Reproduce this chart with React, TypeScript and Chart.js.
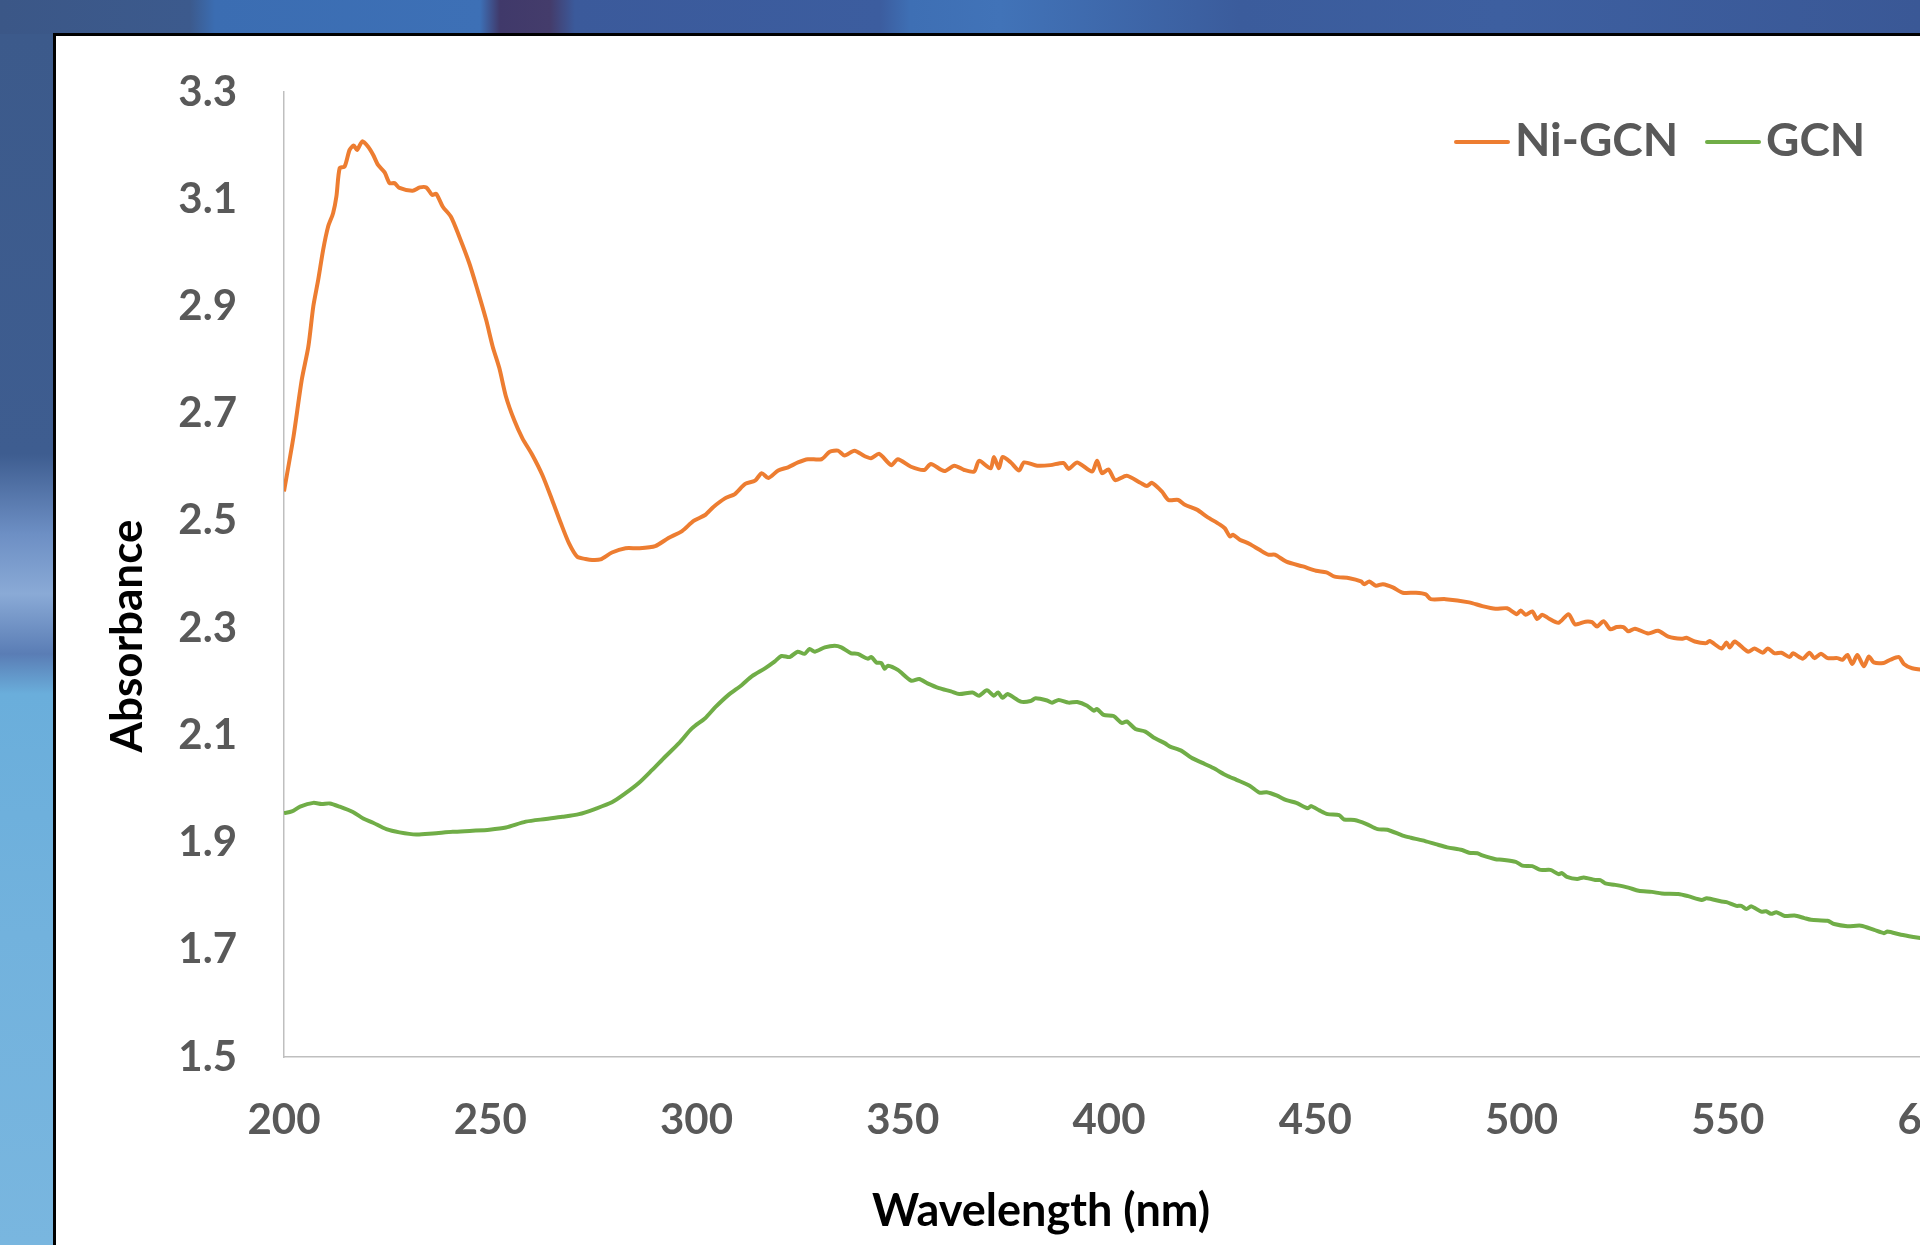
import React, { useEffect, useRef } from "react";
import { Chart, registerables } from "chart.js";

Chart.register(...registerables);

// ---------------- DATA ----------------
const seriesLabels = ["Ni-GCN", "GCN"];
const seriesColors = ["#ED7D31", "#70AD47"];
const xAxisTitle = "Wavelength (nm)";
const yAxisTitle = "Absorbance";
const xTickValues = [200, 250, 300, 350, 400, 450, 500, 550, 600];
const yTickValues = [1.5, 1.7, 1.9, 2.1, 2.3, 2.5, 2.7, 2.9, 3.1, 3.3];

const wavelengthNiGCN = [
  200, 202.3, 204.3, 205.9, 207.1, 208.3, 209.5, 210.7, 211.9, 212.7, 213.5, 214.7, 215.9, 216.9, 217.7, 219,
  220.4, 221.6, 222.8, 224.4, 225.6, 226.8, 228, 231.2, 232.9, 234.5, 235.9, 236.9, 238.5, 240.5, 242.5, 244.9,
  246.9, 249, 250.6, 252.2, 253.8, 255.8, 257.8, 260.2, 262.6, 265, 267.1, 269.1, 271.1, 273.1, 274.7, 276.7,
  279.5, 282.8, 286, 290, 293.2, 296.5, 299.3, 302.1, 304.1, 306.9, 309.3, 311.8, 314.2, 315.8, 317.4, 319.8,
  322.2, 324.6, 327, 330.3, 332.3, 334.3, 335.9, 338.3, 340.7, 342.3, 344.3, 347.2, 348.8, 352, 355.2, 356.8,
  360.1, 362.5, 364.9, 367.3, 368.5, 371.3, 372.1, 373.3, 374.2, 376.2, 378.2, 379.4, 382.6, 385.8, 389, 390.2,
  392.3, 395.9, 397.1, 398.3, 399.9, 401.5, 404.3, 407.6, 409.2, 410.4, 412.8, 414.4, 416.8, 418.4, 421.3, 423.7,
  426.9, 428.1, 429.3, 430.1, 431.7, 434.1, 436.5, 438.6, 440.2, 443, 447, 450.2, 452.7, 454.7, 458.3, 461.1,
  461.9, 463.1, 464.7, 466.4, 468.8, 471.2, 474.4, 476.8, 478, 481.6, 487.3, 490.5, 493.7, 496.5, 498.9, 499.8,
  501, 502.6, 503.8, 505, 506.6, 509, 511.4, 513, 515.5, 517.1, 518.3, 519.9, 521.5, 523.1, 524.7, 525.9,
  527.5, 530.7, 533.1, 535.6, 538.8, 540, 542, 544.8, 545.6, 548.5, 549.7, 550.5, 551.7, 554.9, 556.5, 558.5,
  559.7, 561.4, 563, 565, 565.8, 568.2, 569.8, 571, 572.6, 574.2, 576.6, 577.8, 579, 580.2, 581.4, 583,
  584.2, 585.4, 587.8, 589.4, 591.5, 592.7, 594.7, 600,
];
const absorbanceNiGCN = [
  2.555, 2.657, 2.763, 2.825, 2.9, 2.95, 3.006, 3.049, 3.074, 3.105, 3.158, 3.161, 3.192, 3.2, 3.192, 3.208,
  3.198, 3.183, 3.164, 3.15, 3.13, 3.13, 3.121, 3.116, 3.122, 3.122, 3.108, 3.11, 3.086, 3.067, 3.03, 2.981,
  2.931, 2.875, 2.825, 2.785, 2.732, 2.688, 2.654, 2.623, 2.586, 2.539, 2.496, 2.458, 2.433, 2.429, 2.427, 2.428,
  2.441, 2.449, 2.449, 2.453, 2.468, 2.481, 2.5, 2.511, 2.526, 2.542, 2.55, 2.569, 2.575, 2.589, 2.58, 2.594,
  2.6, 2.609, 2.615, 2.615, 2.629, 2.631, 2.622, 2.631, 2.621, 2.617, 2.625, 2.604, 2.615, 2.601, 2.595, 2.606,
  2.593, 2.603, 2.595, 2.592, 2.612, 2.598, 2.619, 2.598, 2.619, 2.609, 2.594, 2.609, 2.603, 2.604, 2.608, 2.597,
  2.609, 2.592, 2.612, 2.589, 2.596, 2.576, 2.584, 2.571, 2.565, 2.571, 2.555, 2.539, 2.539, 2.53, 2.521, 2.508,
  2.493, 2.486, 2.471, 2.474, 2.465, 2.457, 2.446, 2.437, 2.437, 2.424, 2.415, 2.407, 2.404, 2.396, 2.393, 2.387,
  2.382, 2.387, 2.379, 2.382, 2.376, 2.366, 2.366, 2.363, 2.354, 2.354, 2.348, 2.341, 2.336, 2.337, 2.326, 2.333,
  2.325, 2.331, 2.317, 2.325, 2.318, 2.31, 2.326, 2.307, 2.312, 2.311, 2.303, 2.313, 2.298, 2.302, 2.302, 2.294,
  2.299, 2.29, 2.295, 2.284, 2.28, 2.282, 2.275, 2.272, 2.276, 2.262, 2.273, 2.264, 2.275, 2.256, 2.262, 2.254,
  2.262, 2.253, 2.254, 2.246, 2.253, 2.243, 2.254, 2.244, 2.252, 2.244, 2.244, 2.241, 2.25, 2.233, 2.25, 2.229,
  2.247, 2.236, 2.235, 2.241, 2.246, 2.233, 2.225, 2.22,
];

const wavelengthGCN = [
  200, 201.9, 203.9, 207.1, 209.1, 211.1, 213.5, 216.7, 219.2, 221.6, 224.8, 228, 232.1, 236.1, 240.9, 245.7,
  249.8, 253.8, 258.6, 263.5, 267.5, 271.5, 275.5, 279.5, 282.8, 286, 289.2, 292.4, 295.7, 298.9, 302.1, 304.5,
  307.7, 311, 313.4, 316.6, 319, 320.6, 322.6, 324.5, 326.2, 327.4, 328.7, 331.1, 333.5, 335.1, 337.5, 339.1,
  341.5, 342.4, 343.6, 344.8, 345.6, 346.4, 348.8, 352, 354, 356, 358.8, 361.7, 363.7, 366.9, 368.5, 370.4,
  372.1, 373.1, 374.2, 375.4, 378.6, 381, 382.2, 385, 386.2, 387.8, 390.2, 392.3, 394.7, 396.3, 397.1, 398.7,
  401.1, 403.1, 404.3, 406.4, 408.8, 410.8, 413.6, 414.8, 417.6, 420, 422.5, 425.3, 428.5, 430.9, 434.1, 436.5,
  438.2, 440.6, 443, 445.4, 448.2, 449, 451, 453, 455.8, 457, 459.5, 462.3, 465.1, 467.5, 471.2, 473.2,
  476, 479.2, 482, 485.6, 487.3, 489.3, 490.5, 493.7, 495.3, 498.6, 500.2, 502.6, 504.6, 507, 509, 509.8,
  511, 513.5, 515.1, 517.9, 519.1, 520.3, 522.7, 525.9, 528.4, 531.6, 534, 538, 540.4, 543.7, 544.9, 548.5,
  549.7, 552.1, 553.3, 554.5, 555.7, 558.1, 559.3, 560.5, 561.8, 563.8, 566.2, 568.6, 570.2, 574.2, 575.8, 579,
  582.3, 585.5, 587.9, 588.7, 592, 595, 600,
];
const absorbanceGCN = [
  1.955, 1.958, 1.967, 1.974, 1.972, 1.973, 1.967, 1.957, 1.945, 1.937, 1.925, 1.919, 1.915, 1.917, 1.92, 1.922,
  1.924, 1.928, 1.939, 1.944, 1.948, 1.953, 1.963, 1.975, 1.992, 2.011, 2.035, 2.06, 2.085, 2.113, 2.132, 2.152,
  2.175, 2.194, 2.21, 2.225, 2.238, 2.248, 2.246, 2.256, 2.252, 2.261, 2.256, 2.264, 2.267, 2.264, 2.253, 2.252,
  2.243, 2.246, 2.236, 2.235, 2.224, 2.23, 2.222, 2.202, 2.205, 2.197, 2.188, 2.182, 2.177, 2.18, 2.174, 2.184,
  2.174, 2.18, 2.17, 2.177, 2.163, 2.164, 2.169, 2.165, 2.161, 2.166, 2.161, 2.162, 2.155, 2.146, 2.149, 2.138,
  2.136, 2.123, 2.126, 2.112, 2.107, 2.096, 2.085, 2.079, 2.071, 2.058, 2.049, 2.039, 2.025, 2.017, 2.006, 1.993,
  1.994, 1.988, 1.979, 1.974, 1.964, 1.968, 1.96, 1.953, 1.951, 1.943, 1.942, 1.935, 1.925, 1.924, 1.913, 1.909,
  1.904, 1.897, 1.891, 1.886, 1.881, 1.88, 1.876, 1.869, 1.868, 1.864, 1.857, 1.856, 1.849, 1.849, 1.841, 1.843,
  1.836, 1.832, 1.835, 1.83, 1.83, 1.824, 1.821, 1.816, 1.81, 1.808, 1.805, 1.804, 1.8, 1.793, 1.796, 1.79,
  1.789, 1.782, 1.782, 1.776, 1.781, 1.771, 1.772, 1.767, 1.77, 1.763, 1.764, 1.759, 1.756, 1.754, 1.748, 1.744,
  1.745, 1.737, 1.731, 1.734, 1.728, 1.724, 1.718,
];

// ---------------- STYLE ----------------
const FONT = "Lato, 'Open Sans', 'DejaVu Sans', sans-serif";
const TICK_COLOR = "#595959";
const AXIS_COLOR = "#BFBFBF";

const overlayPlugin = {
  id: "overlayTexts",
  afterDraw(chart: any) {
    const { ctx, chartArea: a } = chart;
    ctx.save();
    // axis titles
    ctx.fillStyle = "#000000";
    ctx.font = `bold 45px ${FONT}`;
    ctx.textAlign = "center";
    ctx.textBaseline = "middle";
    ctx.fillText(xAxisTitle, a.left + 757, a.bottom + 154);
    ctx.save();
    ctx.translate(a.left - 156, a.top + 544);
    ctx.rotate(-Math.PI / 2);
    ctx.font = `bold 44px ${FONT}`;
    ctx.fillText(yAxisTitle, 0, 0);
    ctx.restore();

    // legend
    const lineStarts = [1172, 1423];
    const ly = a.top + 49;
    ctx.font = `bold 46px ${FONT}`;
    ctx.textAlign = "left";
    chart.data.datasets.forEach((ds: any, i: number) => {
      const x0 = a.left + lineStarts[i];
      ctx.strokeStyle = ds.borderColor;
      ctx.lineWidth = 4;
      ctx.lineCap = "round";
      ctx.beginPath();
      ctx.moveTo(x0, ly + 1);
      ctx.lineTo(x0 + 52, ly + 1);
      ctx.stroke();
      ctx.fillStyle = TICK_COLOR;
      ctx.fillText(ds.label, x0 + 59, ly);
    });
    ctx.restore();
  },
};

export default function App() {
  const canvasRef = useRef<HTMLCanvasElement | null>(null);

  useEffect(() => {
    if (!canvasRef.current) return;
    Chart.defaults.font.family = FONT;
    const toPoints = (xs: number[], ys: number[]) => xs.map((x, i) => ({ x, y: ys[i] }));
    const chart = new Chart(canvasRef.current, {
      type: "line",
      data: {
        datasets: [
          {
            label: seriesLabels[0],
            data: toPoints(wavelengthNiGCN, absorbanceNiGCN),
            borderColor: seriesColors[0],
            backgroundColor: seriesColors[0],
            borderWidth: 4,
            pointRadius: 0,
            tension: 0.25,
            borderJoinStyle: "round",
            fill: false,
          },
          {
            label: seriesLabels[1],
            data: toPoints(wavelengthGCN, absorbanceGCN),
            borderColor: seriesColors[1],
            backgroundColor: seriesColors[1],
            borderWidth: 4,
            pointRadius: 0,
            tension: 0.25,
            borderJoinStyle: "round",
            fill: false,
          },
        ],
      },
      options: {
        animation: false,
        responsive: false,
        maintainAspectRatio: false,
        devicePixelRatio: 1,
        layout: { padding: { left: 0, right: 80, top: 80, bottom: 0 } },
        plugins: {
          legend: { display: false },
          tooltip: { enabled: false },
          title: { display: false },
        },
        scales: {
          x: {
            type: "linear",
            min: 200,
            max: 600,
            afterBuildTicks: (scale: any) => {
              scale.ticks = xTickValues.map((v) => ({ value: v }));
            },
            afterFit: (scale: any) => {
              scale.height = 188;
            },
            grid: { display: false, drawTicks: false, tickLength: 0 },
            border: { display: true, color: AXIS_COLOR, width: 1.5 },
            ticks: {
              color: TICK_COLOR,
              font: { size: 42, weight: "bold", family: FONT },
              padding: 38,
              maxRotation: 0,
              autoSkip: false,
              callback: (v: any) => String(v),
            },
          },
          y: {
            type: "linear",
            min: 1.5,
            max: 3.3,
            afterBuildTicks: (scale: any) => {
              scale.ticks = yTickValues.map((v) => ({ value: v }));
            },
            afterFit: (scale: any) => {
              scale.width = 228;
            },
            grid: { display: false, drawTicks: false, tickLength: 0 },
            border: { display: true, color: AXIS_COLOR, width: 1.5 },
            ticks: {
              color: TICK_COLOR,
              font: { size: 42, weight: "bold", family: FONT },
              padding: 47,
              autoSkip: false,
              callback: (v: any) => Number(v).toFixed(1),
            },
          },
        },
      } as any,
      plugins: [overlayPlugin],
    });
    return () => chart.destroy();
  }, []);

  return (
    <div
      style={{
        position: "fixed",
        left: 0,
        top: 0,
        width: 1920,
        height: 1245,
        overflow: "hidden",
        background: "#3d5a8c",
      }}
    >
      {/* top strip */}
      <div
        style={{
          position: "absolute",
          left: 0,
          top: 0,
          width: 1920,
          height: 40,
          background:
            "linear-gradient(to right, #3b5787 0px, #3c5a8d 190px, #3b6db2 215px, #3d70b6 480px, #40396a 500px, #443c6b 550px, #3b5a9b 575px, #3c5d9f 880px, #3e6fb4 910px, #4173b8 1000px, #3b5c9c 1240px, #3d5fa0 1500px, #3a5896 1920px)",
        }}
      />
      {/* left strip */}
      <div
        style={{
          position: "absolute",
          left: 0,
          top: 34,
          width: 60,
          height: 1211,
          background:
            "linear-gradient(to bottom, #3c5a8b 0px, #3e5d90 420px, #6d8fc4 500px, #8aaad6 560px, #5a7db5 620px, #6aaedb 660px, #72b2dd 900px, #79b6df 1211px)",
        }}
      />
      {/* white panel with black border */}
      <div
        style={{
          position: "absolute",
          left: 53,
          top: 33,
          width: 1920,
          height: 1300,
          background: "#ffffff",
          border: "3px solid #000000",
          boxSizing: "border-box",
        }}
      />
      <canvas
        ref={canvasRef}
        width={1958}
        height={1233}
        style={{ position: "absolute", left: 56, top: 12, width: 1958, height: 1233 }}
      />
    </div>
  );
}
